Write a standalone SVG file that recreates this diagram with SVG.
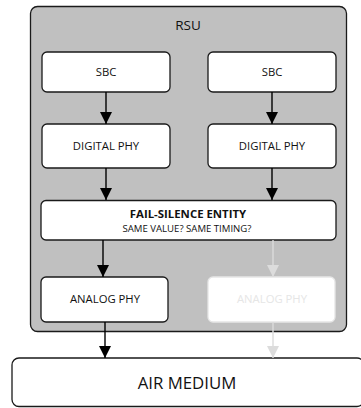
<svg xmlns="http://www.w3.org/2000/svg" width="361" height="408" viewBox="0 0 361 408">
<defs>
<style>
text{font-family:"Open Sans","Noto Sans","DejaVu Sans",sans-serif;text-anchor:middle;fill:#111}
.box{fill:#fff;stroke:#1a1a1a;stroke-width:1.3}
.ghost{fill:#fff;stroke:#e6e6e6;stroke-width:1.3}
.lbl{font-size:11.3px}
.c{stroke:#000;stroke-width:1.4;fill:none}
.cg{stroke:#dcdcdc;stroke-width:1.4;fill:none}
</style>
<marker id="ah" viewBox="0 0 12 12" refX="12" refY="6" markerWidth="12" markerHeight="12" markerUnits="userSpaceOnUse" orient="auto"><path d="M0,0 L12,6 L0,12 z" fill="#000"/></marker>
<marker id="ahg" viewBox="0 0 12 12" refX="12" refY="6" markerWidth="12" markerHeight="12" markerUnits="userSpaceOnUse" orient="auto"><path d="M0,0 L12,6 L0,12 z" fill="#dcdcdc"/></marker>
</defs>
<g id="rsu">
<rect x="30.5" y="6.5" width="316" height="325" rx="7" fill="#c0c0c0" stroke="#1a1a1a" stroke-width="1.3"/>
<text x="188" y="30" font-size="13.5">RSU</text>
</g>
<g id="sbc1"><rect class="box" x="42" y="52" width="128" height="40" rx="5"/><text class="lbl" x="106" y="76">SBC</text></g>
<g id="sbc2"><rect class="box" x="208" y="52" width="128" height="40" rx="5"/><text class="lbl" x="272" y="76">SBC</text></g>
<g id="dphy1"><rect class="box" x="42" y="124" width="128" height="44" rx="5"/><text class="lbl" x="106" y="150">DIGITAL PHY</text></g>
<g id="dphy2"><rect class="box" x="208" y="124" width="128" height="44" rx="5"/><text class="lbl" x="272" y="150">DIGITAL PHY</text></g>
<g id="fse"><rect class="box" x="41" y="200.5" width="295" height="39.5" rx="5"/>
<text x="188" y="218" font-size="11.4" font-weight="bold">FAIL-SILENCE ENTITY</text>
<text x="187" y="231.5" font-size="9.6">SAME VALUE? SAME TIMING?</text></g>
<g id="aphy1"><rect class="box" x="41" y="277" width="127" height="45" rx="5"/><text class="lbl" x="105" y="303">ANALOG PHY</text></g>
<g id="aphy2"><rect class="ghost" x="208" y="277" width="127" height="45" rx="5"/><text class="lbl" x="272" y="303" style="fill:#e6e6e6">ANALOG PHY</text></g>
<g id="air"><rect class="box" x="12" y="358" width="352" height="48.5" rx="7"/><text x="187" y="389" font-size="16.8">AIR MEDIUM</text></g>
<g id="connectors">
<line class="c" x1="106" y1="92" x2="106" y2="124" marker-end="url(#ah)"/>
<line class="c" x1="272" y1="92" x2="272" y2="124" marker-end="url(#ah)"/>
<line class="c" x1="106" y1="168" x2="106" y2="200" marker-end="url(#ah)"/>
<line class="c" x1="272" y1="168" x2="272" y2="200" marker-end="url(#ah)"/>
<line class="c" x1="103" y1="240" x2="103" y2="277" marker-end="url(#ah)"/>
<line class="cg" x1="273" y1="240" x2="273" y2="277" marker-end="url(#ahg)"/>
<line class="c" x1="105" y1="322" x2="105" y2="358" marker-end="url(#ah)"/>
<line class="cg" x1="273" y1="322" x2="273" y2="358" marker-end="url(#ahg)"/>
</g>
</svg>
